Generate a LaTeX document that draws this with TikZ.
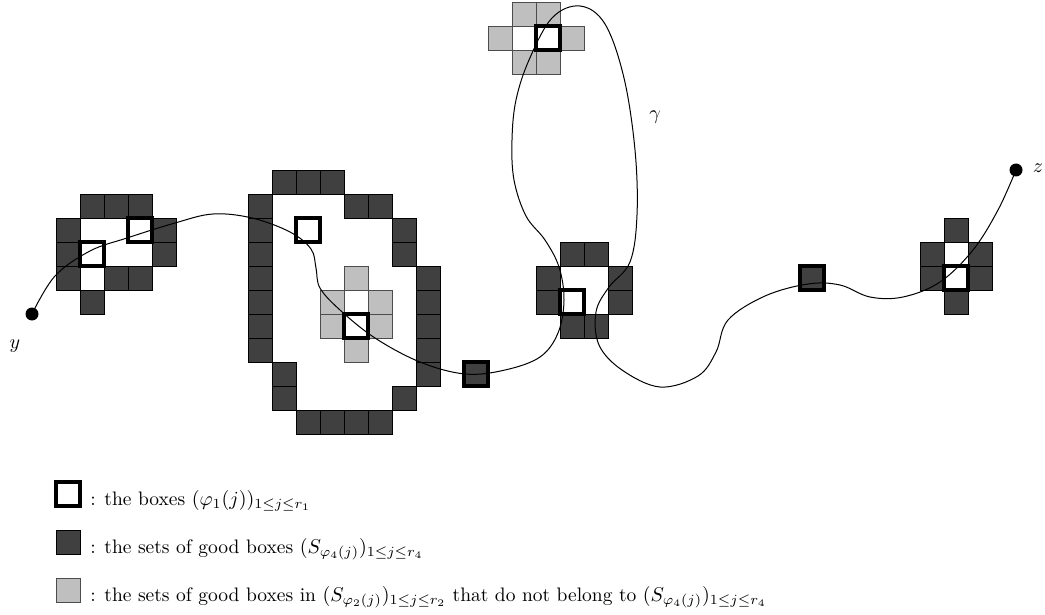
\documentclass[tikz,border=0pt]{standalone}
\usepackage{amsmath,amssymb}
\begin{document}
\begin{tikzpicture}[x=0.5pt,y=-0.5pt,
  darkcell/.style={fill=black!75,draw=black,line width=0.4pt},
  lightcell/.style={fill=black!25,draw=black!70,line width=0.4pt},
  thickbox/.style={draw=black,line width=2pt},
  pathcurve/.style={draw=black,line width=0.5pt},
  enddot/.style={fill=black},
  lbl/.style={inner sep=0pt,anchor=base west,font=\fontsize{9.75}{12}\selectfont}]
\useasboundingbox (0,0) rectangle (1045,615);
% dark cells
\foreach \c/\r in {3/8,4/8,5/8,2/9,6/9,2/10,6/10,2/11,4/11,5/11,3/12,
  11/7,12/7,13/7,10/8,14/8,15/8,10/9,16/9,10/10,16/10,10/11,17/11,10/12,17/12,
  10/13,17/13,10/14,17/14,11/15,17/15,11/16,16/16,12/17,13/17,14/17,15/17,
  23/10,24/10,22/11,25/11,22/12,25/12,23/13,24/13,
  39/9,38/10,40/10,38/11,40/11,39/12,19/15,33/11}
  \path[darkcell] ({8+24*\c},{2+24*\r}) rectangle ++(24,24);
% light cells
\foreach \c/\r in {14/11,13/12,15/12,13/13,15/13,14/14,21/0,22/0,20/1,23/1,21/2,22/2}
  \path[lightcell] ({8+24*\c},{2+24*\r}) rectangle ++(24,24);
% end points
\coordinate (ystart) at (32,314);
\coordinate (zend) at (1016,170);
% curve gamma
\draw[pathcurve] plot[smooth,tension=0.6] coordinates {(ystart) (55,276) (90,251) (127,238)
 (175,223) (213,214) (252,218) (290,232) (311,249) (316,268) (320,288) (340,310) (375,338)
 (420,362) (465,374) (505,370) (540,357) (558,333) (564,300) (559,267) (545,240) (526,216)
 (514,180) (512,140) (516,100) (529,60) (552,18) (580,6) (605,24) (624,78) (635,150) (637,215)
 (630,262) (609,287) (596,312) (599,345) (622,370) (660,387) (698,376) (716,352) (728,320)
 (765,296) (808,284) (840,285) (870,297) (903,297) (940,282) (973,250) (998,210) (zend)};
% thick boxes
\foreach \c/\r in {5/9,3/10,12/9,14/13,22/1,23/12,39/11,19/15,33/11}
  \path[thickbox] ({8+24*\c},{2+24*\r}) rectangle ++(24,24);
\fill[enddot] (ystart) circle[radius=6.5];
\fill[enddot] (zend) circle[radius=6.5];
\node (ylabel) at (15,346) {$y$};
\node (zlabel) at (1038,168) {$z$};
\node (glabel) at (655,117) {$\gamma$};
% legend
\path[thickbox] (56,482) rectangle ++(24,24);
\path[darkcell] (56,530) rectangle ++(24,24);
\path[lightcell] (56,578) rectangle ++(24,24);
\node[lbl] (leg1) at (90,505) {: the boxes $(\varphi_1(j))_{1\le j\le r_1}$};
\node[lbl] (leg2) at (90,553) {: the sets of good boxes $(S_{\varphi_4(j)})_{1\le j\le r_4}$};
\node[lbl] (leg3) at (90,601) {: the sets of good boxes in $(S_{\varphi_2(j)})_{1\le j\le r_2}$ that do not belong to $(S_{\varphi_4(j)})_{1\le j\le r_4}$};
\end{tikzpicture}
\end{document}
